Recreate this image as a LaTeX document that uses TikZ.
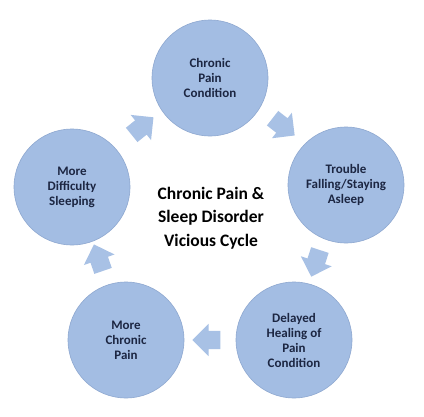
\documentclass[tikz,border=0pt]{standalone}
\usepackage{fontspec}
\setmainfont{Carlito}
\usetikzlibrary{shapes.arrows,calc}
\definecolor{cfill}{HTML}{A3BDE3}
\definecolor{cdraw}{HTML}{8EA8D0}
\definecolor{afill}{HTML}{A8C1E5}
\definecolor{ctext}{HTML}{1C2642}
\tikzset{
  cyclenode/.style={circle, fill=cfill, draw=cdraw, line width=0.6pt, minimum size=116pt,
    inner sep=0pt, align=center, text=ctext, font=\bfseries\fontsize{13}{15}\selectfont},
  blockarrow/.style={single arrow, fill=afill, draw=none, minimum height=28pt,
    single arrow head extend=7pt, single arrow head indent=0pt,
    inner xsep=0pt, inner ysep=9pt, outer sep=0pt},
  titletext/.style={align=center, text=black, font=\bfseries\fontsize{17.5}{23.5}\selectfont}
}
\begin{document}
\begin{tikzpicture}[x=1pt,y=-1pt]
\useasboundingbox[fill=white] (0,0) rectangle (424,416);
\node[cyclenode] (c1) at (210,78) {Chronic\\Pain\\Condition};
\node[cyclenode] (c2) at (346,185) {Trouble\\Falling/Staying\\Asleep};
\node[cyclenode] (c3) at (294,340) {Delayed\\Healing of\\Pain\\Condition};
\node[cyclenode] (c4) at (126,340) {More\\Chronic\\Pain};
\node[cyclenode] (c5) at (72,187) {More\\Difficulty\\Sleeping};
\node[titletext] (t) at (211,218) {Chronic Pain \&\\Sleep Disorder\\Vicious Cycle};
\node[blockarrow, rotate=39] (a1) at (139,129) {};
\node[blockarrow, rotate=-38] (a2) at (280,124) {};
\node[blockarrow, rotate=-108] (a3) at (317,259) {};
\node[blockarrow, rotate=180] (a4) at (211,340) {};
\node[blockarrow, rotate=109] (a5) at (100,262) {};
\end{tikzpicture}
\end{document}
